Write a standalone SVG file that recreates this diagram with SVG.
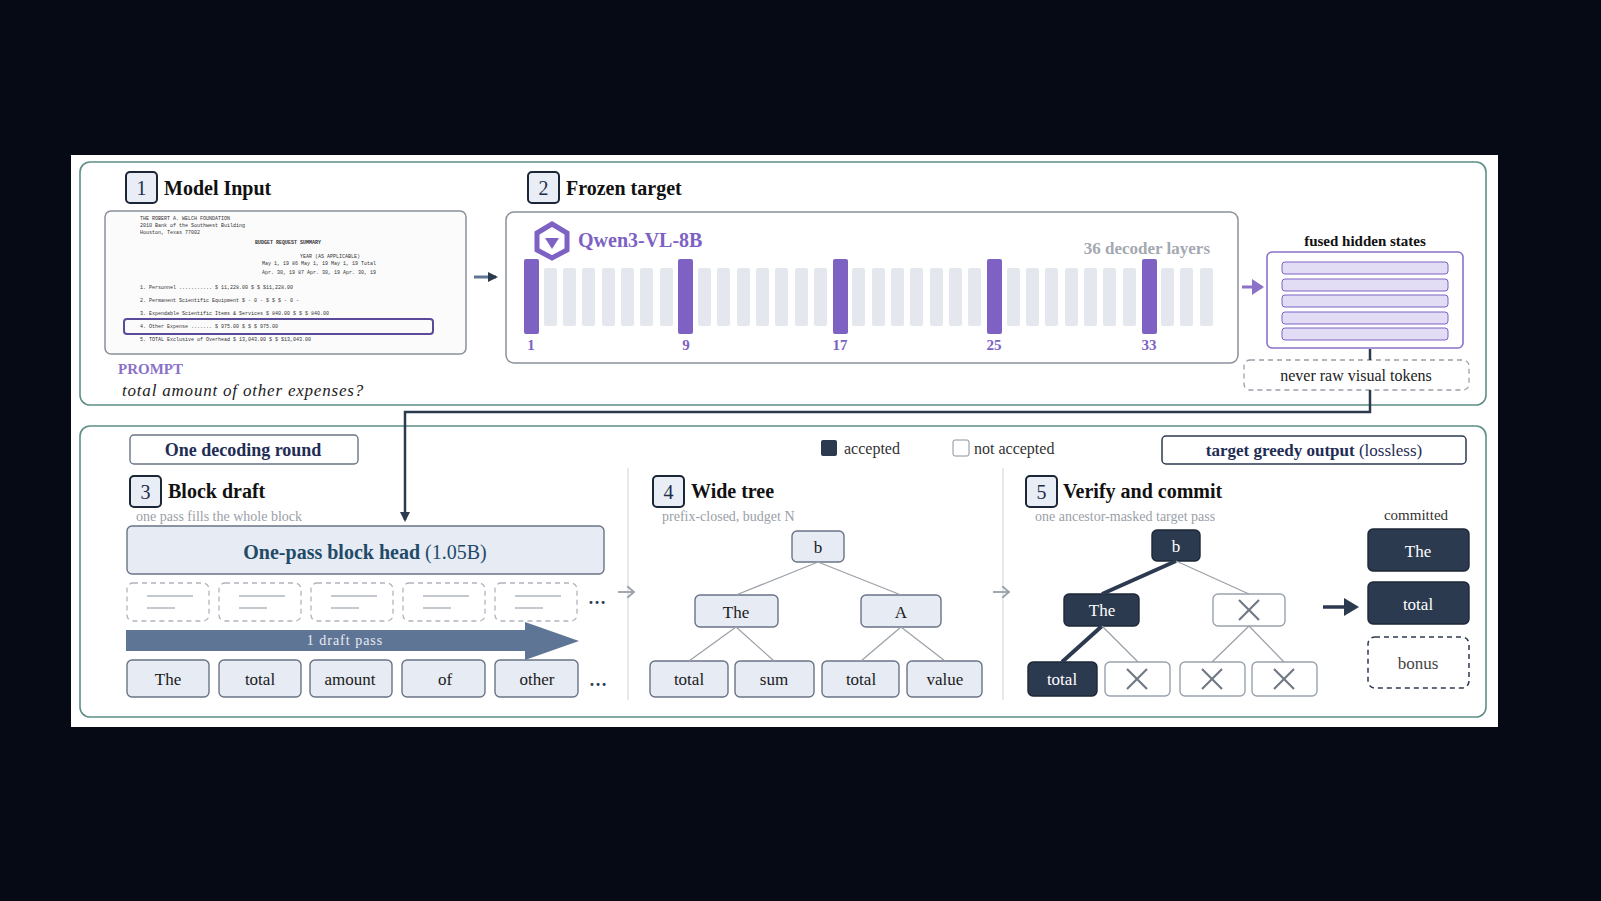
<svg xmlns="http://www.w3.org/2000/svg" width="1601" height="901" viewBox="0 0 1601 901">
<defs>
<style>
text{font-family:"Liberation Serif","DejaVu Serif",serif;}
.sec{fill:none;stroke:#5d8f86;stroke-width:1.6}
.num{fill:#e8edf6;stroke:#1b2637;stroke-width:2}
.numt{font-size:20px;fill:#1f2d4a;text-anchor:middle}
.title{font-size:20px;font-weight:bold;fill:#111}
.sub{font-size:14px;fill:#9aa0a8}
.tok{fill:#e6ebf4;stroke:#6a7486;stroke-width:1.4}
.tokt{font-size:17px;fill:#1a1a1a;text-anchor:middle}
.acc{fill:#2c3a50;stroke:#1d2736;stroke-width:1.4}
.acct{font-size:17px;fill:#fff;text-anchor:middle}
.rej{fill:#fff;stroke:#9aa2ae;stroke-width:1.4}
.x{stroke:#6f7884;stroke-width:2.2}
.dash{fill:#fff;stroke:#9aa0a8;stroke-width:1.3;stroke-dasharray:5 4}
.edge{stroke:#9aa0a8;stroke-width:1.2}
.grey{fill:#e4e7ee}
.purp{fill:#7d62c4}
.lnum{font-size:15px;font-weight:bold;fill:#7d62c4;text-anchor:middle}
.doc{font-family:"Liberation Mono",monospace;font-size:5px;fill:#333}
</style>
<marker id="ah" markerWidth="10" markerHeight="10" refX="8" refY="5" orient="auto" markerUnits="userSpaceOnUse"><path d="M0,0 L10,5 L0,10 z" fill="#2c3a50"/></marker>
<marker id="ahg" markerWidth="12" markerHeight="12" refX="6" refY="6" orient="auto" markerUnits="userSpaceOnUse"><path d="M0,0 L7,6 L0,12" fill="none" stroke="#9aa0a8" stroke-width="1.8"/></marker>
</defs>
<rect width="1601" height="901" fill="#060a14"/>
<rect x="71" y="155" width="1427" height="572" fill="#fff"/>
<rect class="sec" x="80" y="162" width="1406" height="243" rx="10"/>
<rect class="sec" x="80" y="426" width="1406" height="291" rx="10" stroke="#6a7f9a"/>

<g id="n1">
<rect class="num" x="126" y="172" width="31" height="31" rx="4"/><text class="numt" x="141.5" y="195">1</text>
<text class="title" x="164" y="195">Model Input</text>
<rect x="105" y="211" width="361" height="143" rx="6" fill="#fbfbfc" stroke="#8a909a" stroke-width="1.5"/>
<text class="doc" x="140" y="220">THE ROBERT A. WELCH FOUNDATION</text>
<text class="doc" x="140" y="227">2010 Bank of the Southwest Building</text>
<text class="doc" x="140" y="234">Houston, Texas 77002</text>
<text class="doc" x="255" y="244" font-weight="bold">BUDGET REQUEST SUMMARY</text>
<text class="doc" x="300" y="258">YEAR (AS APPLICABLE)</text>
<text class="doc" x="262" y="265">May 1, 19 86  May 1, 19    May 1, 19       Total</text>
<text class="doc" x="262" y="274">Apr. 30, 19 87 Apr. 30, 19  Apr. 30, 19</text>
<text class="doc" x="140" y="289">1. Personnel ........... $ 11,228.00  $      $      $11,228.00</text>
<text class="doc" x="140" y="302">2. Permanent Scientific Equipment $ - 0 -  $   $      $ - 0 -</text>
<text class="doc" x="140" y="315">3. Expendable Scientific Items &amp; Services $ 840.00 $ $  $ 840.00</text>
<text class="doc" x="140" y="328">4. Other Expense ....... $  975.00  $      $      $  975.00</text>
<text class="doc" x="140" y="341">5. TOTAL Exclusive of Overhead $ 13,043.00 $  $    $13,043.00</text>
<rect x="124" y="319" width="309" height="15" rx="3" fill="none" stroke="#5b4a9a" stroke-width="2"/>
<text x="118" y="374" font-size="15" font-weight="bold" fill="#8a72c8">PROMPT</text>
<text x="122" y="396" font-size="17" font-style="italic" fill="#222" letter-spacing="0.8">total amount of other expenses?</text>
</g>

<g id="n2">
<rect class="num" x="528" y="172" width="31" height="31" rx="4"/><text class="numt" x="543.5" y="195">2</text>
<text class="title" x="566" y="195">Frozen target</text>
<rect x="506" y="212" width="732" height="151" rx="8" fill="#fff" stroke="#8a909a" stroke-width="1.5"/>
<g transform="translate(552,241)" fill="#7d62c4">
<polygon points="0,-17 15,-8 15,9 0,17 -15,9 -15,-8" fill="none" stroke="#7d62c4" stroke-width="5"/>
<polygon points="-7,-3 7,-3 0,8"/>
</g>
<text x="578" y="247" font-size="20" font-weight="bold" fill="#7d62c4">Qwen3-VL-8B</text>
<text x="1210" y="254" font-size="17" font-weight="bold" fill="#a4a8b0" text-anchor="end">36 decoder layers</text>
<g id="layers">
<rect class="purp" x="524" y="259" width="15" height="75" rx="2"/>
<rect class="grey" x="544" y="268" width="13" height="58" rx="2"/>
<rect class="grey" x="563" y="268" width="13" height="58" rx="2"/>
<rect class="grey" x="582" y="268" width="13" height="58" rx="2"/>
<rect class="grey" x="602" y="268" width="13" height="58" rx="2"/>
<rect class="grey" x="621" y="268" width="13" height="58" rx="2"/>
<rect class="grey" x="640" y="268" width="13" height="58" rx="2"/>
<rect class="grey" x="660" y="268" width="13" height="58" rx="2"/>
<rect class="purp" x="678" y="259" width="15" height="75" rx="2"/>
<rect class="grey" x="698" y="268" width="13" height="58" rx="2"/>
<rect class="grey" x="717" y="268" width="13" height="58" rx="2"/>
<rect class="grey" x="737" y="268" width="13" height="58" rx="2"/>
<rect class="grey" x="756" y="268" width="13" height="58" rx="2"/>
<rect class="grey" x="775" y="268" width="13" height="58" rx="2"/>
<rect class="grey" x="795" y="268" width="13" height="58" rx="2"/>
<rect class="grey" x="814" y="268" width="13" height="58" rx="2"/>
<rect class="purp" x="833" y="259" width="15" height="75" rx="2"/>
<rect class="grey" x="852" y="268" width="13" height="58" rx="2"/>
<rect class="grey" x="872" y="268" width="13" height="58" rx="2"/>
<rect class="grey" x="891" y="268" width="13" height="58" rx="2"/>
<rect class="grey" x="910" y="268" width="13" height="58" rx="2"/>
<rect class="grey" x="930" y="268" width="13" height="58" rx="2"/>
<rect class="grey" x="949" y="268" width="13" height="58" rx="2"/>
<rect class="grey" x="968" y="268" width="13" height="58" rx="2"/>
<rect class="purp" x="987" y="259" width="15" height="75" rx="2"/>
<rect class="grey" x="1007" y="268" width="13" height="58" rx="2"/>
<rect class="grey" x="1026" y="268" width="13" height="58" rx="2"/>
<rect class="grey" x="1045" y="268" width="13" height="58" rx="2"/>
<rect class="grey" x="1065" y="268" width="13" height="58" rx="2"/>
<rect class="grey" x="1084" y="268" width="13" height="58" rx="2"/>
<rect class="grey" x="1103" y="268" width="13" height="58" rx="2"/>
<rect class="grey" x="1123" y="268" width="13" height="58" rx="2"/>
<rect class="purp" x="1142" y="259" width="15" height="75" rx="2"/>
<rect class="grey" x="1161" y="268" width="13" height="58" rx="2"/>
<rect class="grey" x="1180" y="268" width="13" height="58" rx="2"/>
<rect class="grey" x="1200" y="268" width="13" height="58" rx="2"/>
</g>
<text class="lnum" x="531" y="350">1</text><text class="lnum" x="686" y="350">9</text><text class="lnum" x="840" y="350">17</text><text class="lnum" x="994" y="350">25</text><text class="lnum" x="1149" y="350">33</text>
</g>

<g id="fused">
<text x="1365" y="246" font-size="15" font-weight="bold" fill="#111" text-anchor="middle">fused hidden states</text>
<rect x="1267" y="252" width="196" height="96" rx="5" fill="#fff" stroke="#8a72c8" stroke-width="1.6"/>
<rect x="1282" y="262" width="166" height="12" rx="3" fill="#e3dcf5" stroke="#7d62c4"/>
<rect x="1282" y="279" width="166" height="12" rx="3" fill="#e3dcf5" stroke="#7d62c4"/>
<rect x="1282" y="295" width="166" height="12" rx="3" fill="#e3dcf5" stroke="#7d62c4"/>
<rect x="1282" y="312" width="166" height="12" rx="3" fill="#e3dcf5" stroke="#7d62c4"/>
<rect x="1282" y="328" width="166" height="12" rx="3" fill="#e3dcf5" stroke="#7d62c4"/>
</g>
<g id="never">
<rect class="dash" x="1244" y="360" width="225" height="30" rx="6"/>
<text x="1356" y="381" font-size="16" fill="#222" text-anchor="middle">never raw visual tokens</text>
</g>

<g id="legend">
<rect x="1162" y="436" width="304" height="28" rx="4" fill="#fff" stroke="#2c3a50" stroke-width="1.5"/>
<text x="1314" y="456" font-size="17" text-anchor="middle" fill="#1f2d55"><tspan font-weight="bold">target greedy output</tspan> (lossless)</text>
<rect x="130" y="435" width="228" height="29" rx="4" fill="#fff" stroke="#6a7486" stroke-width="1.4"/>
<text x="243" y="456" font-size="18" font-weight="bold" text-anchor="middle" fill="#1f2d55">One decoding round</text>
<rect x="821" y="440" width="16" height="16" rx="2" fill="#2c3a50"/>
<text x="844" y="454" font-size="16" fill="#333">accepted</text>
<rect x="953" y="440" width="16" height="16" rx="2" fill="#fff" stroke="#8a909a"/>
<text x="974" y="454" font-size="16" fill="#333">not accepted</text>
<line x1="628" y1="468" x2="628" y2="700" stroke="#dde0e6" stroke-width="1.5"/>
<line x1="1003" y1="468" x2="1003" y2="700" stroke="#dde0e6" stroke-width="1.5"/>
</g>

<g id="n3">
<rect class="num" x="130" y="476" width="31" height="31" rx="4"/><text class="numt" x="145.5" y="499">3</text>
<text class="title" x="168" y="498">Block draft</text>
<text class="sub" x="136" y="521">one pass fills the whole block</text>
<rect x="127" y="526" width="477" height="48" rx="5" fill="#e6ebf4" stroke="#6a7486" stroke-width="1.4"/>
<text x="365" y="559" font-size="20" text-anchor="middle" fill="#1f4a68"><tspan font-weight="bold">One-pass block head</tspan> (1.05B)</text>
<g fill="#fff" stroke="#b0b5bd" stroke-width="1.3" stroke-dasharray="5 4">
<rect x="127" y="583" width="82" height="38" rx="6"/><rect x="219" y="583" width="82" height="38" rx="6"/><rect x="311" y="583" width="82" height="38" rx="6"/><rect x="403" y="583" width="82" height="38" rx="6"/><rect x="495" y="583" width="82" height="38" rx="6"/>
</g>
<g stroke="#c4c8cf" stroke-width="2">
<line x1="147" y1="596" x2="193" y2="596"/><line x1="147" y1="608" x2="175" y2="608"/>
<line x1="239" y1="596" x2="285" y2="596"/><line x1="239" y1="608" x2="267" y2="608"/>
<line x1="331" y1="596" x2="377" y2="596"/><line x1="331" y1="608" x2="359" y2="608"/>
<line x1="423" y1="596" x2="469" y2="596"/><line x1="423" y1="608" x2="451" y2="608"/>
<line x1="515" y1="596" x2="561" y2="596"/><line x1="515" y1="608" x2="543" y2="608"/>
</g>
<text x="597" y="604" font-size="18" font-weight="bold" fill="#2c3a50" text-anchor="middle">…</text>
<polygon points="126,630 525,630 525,622 579,641 525,660 525,651 126,651" fill="#5f7596"/>
<text x="345" y="645" font-size="14" fill="#e8ecf3" text-anchor="middle" letter-spacing="1">1 draft pass</text>
<rect class="tok" x="127" y="660" width="82" height="37" rx="5"/><text class="tokt" x="168" y="685">The</text>
<rect class="tok" x="219" y="660" width="82" height="37" rx="5"/><text class="tokt" x="260" y="685">total</text>
<rect class="tok" x="310" y="660" width="82" height="37" rx="5"/><text class="tokt" x="350" y="685">amount</text>
<rect class="tok" x="402" y="660" width="83" height="37" rx="5"/><text class="tokt" x="445" y="685">of</text>
<rect class="tok" x="495" y="660" width="83" height="37" rx="5"/><text class="tokt" x="537" y="685">other</text>
<text x="598" y="686" font-size="18" font-weight="bold" fill="#2c3a50" text-anchor="middle">…</text>
</g>

<g id="n4">
<rect class="num" x="653" y="476" width="31" height="31" rx="4"/><text class="numt" x="668.5" y="499">4</text>
<text class="title" x="691" y="498">Wide tree</text>
<text class="sub" x="662" y="521">prefix-closed, budget N</text>
<rect class="tok" x="792" y="531" width="52" height="31" rx="5"/><text class="tokt" x="818" y="553">b</text>
<rect class="tok" x="695" y="595" width="83" height="32" rx="5"/><text class="tokt" x="736" y="618">The</text>
<rect class="tok" x="861" y="595" width="80" height="32" rx="5"/><text class="tokt" x="901" y="618">A</text>
<rect class="tok" x="650" y="661" width="78" height="36" rx="5"/><text class="tokt" x="689" y="685">total</text>
<rect class="tok" x="735" y="661" width="79" height="36" rx="5"/><text class="tokt" x="774" y="685">sum</text>
<rect class="tok" x="822" y="661" width="77" height="36" rx="5"/><text class="tokt" x="861" y="685">total</text>
<rect class="tok" x="907" y="661" width="75" height="36" rx="5"/><text class="tokt" x="945" y="685">value</text>
</g>

<g id="n5">
<rect class="num" x="1026" y="476" width="31" height="31" rx="4"/><text class="numt" x="1041.5" y="499">5</text>
<text class="title" x="1063" y="498">Verify and commit</text>
<text class="sub" x="1035" y="521">one ancestor-masked target pass</text>
<rect class="acc" x="1152" y="530" width="48" height="31" rx="5"/><text class="acct" x="1176" y="552">b</text>
<rect class="acc" x="1064" y="594" width="75" height="32" rx="5"/><text class="acct" x="1102" y="616">The</text>
<rect class="rej" x="1213" y="594" width="72" height="32" rx="5"/>
<rect class="acc" x="1028" y="662" width="69" height="34" rx="5"/><text class="acct" x="1062" y="685">total</text>
<rect class="rej" x="1105" y="662" width="65" height="34" rx="5"/>
<rect class="rej" x="1180" y="662" width="65" height="34" rx="5"/>
<rect class="rej" x="1252" y="662" width="65" height="34" rx="5"/>
<g class="x">
<line x1="1239" y1="600" x2="1259" y2="620"/><line x1="1259" y1="600" x2="1239" y2="620"/>
<line x1="1127" y1="669" x2="1147" y2="689"/><line x1="1147" y1="669" x2="1127" y2="689"/>
<line x1="1202" y1="669" x2="1222" y2="689"/><line x1="1222" y1="669" x2="1202" y2="689"/>
<line x1="1274" y1="669" x2="1294" y2="689"/><line x1="1294" y1="669" x2="1274" y2="689"/>
</g>
<text x="1416" y="520" font-size="15" fill="#333" text-anchor="middle">committed</text>
<rect class="acc" x="1368" y="529" width="101" height="42" rx="5"/><text class="acct" x="1418" y="557">The</text>
<rect class="acc" x="1368" y="582" width="101" height="42" rx="5"/><text class="acct" x="1418" y="610">total</text>
<rect x="1368" y="637" width="101" height="51" rx="7" fill="#fff" stroke="#2c3a50" stroke-width="1.5" stroke-dasharray="5 4"/>
<text x="1418" y="669" font-size="17" fill="#444" text-anchor="middle">bonus</text>
</g>

<g id="connectors">
<line x1="474" y1="277" x2="496" y2="277" stroke="#5f7596" stroke-width="3" marker-end="url(#ah)"/>
<line x1="1242" y1="287" x2="1262" y2="287" stroke="#8a72c8" stroke-width="3"/>
<polygon points="1252,279 1264,287 1252,295" fill="#8a72c8"/>
<line x1="1370" y1="349" x2="1370" y2="360" stroke="#2c3a50" stroke-width="2.5"/>
<polyline points="1370,390 1370,412 405,412 405,520" fill="none" stroke="#2c3a50" stroke-width="2.5" marker-end="url(#ah)"/>
<line x1="618" y1="592" x2="633" y2="592" stroke="#9aa0a8" stroke-width="1.8" marker-end="url(#ahg)"/>
<line x1="993" y1="592" x2="1008" y2="592" stroke="#9aa0a8" stroke-width="1.8" marker-end="url(#ahg)"/>
<line class="edge" x1="818" y1="562" x2="736" y2="595"/><line class="edge" x1="818" y1="562" x2="901" y2="595"/>
<line class="edge" x1="736" y1="627" x2="689" y2="661"/><line class="edge" x1="736" y1="627" x2="774" y2="661"/>
<line class="edge" x1="901" y1="627" x2="861" y2="661"/><line class="edge" x1="901" y1="627" x2="945" y2="661"/>
<line x1="1176" y1="561" x2="1102" y2="594" stroke="#2c3a50" stroke-width="4"/>
<line class="edge" x1="1176" y1="561" x2="1249" y2="594"/>
<line x1="1102" y1="626" x2="1062" y2="662" stroke="#2c3a50" stroke-width="4"/>
<line class="edge" x1="1102" y1="626" x2="1138" y2="662"/>
<line class="edge" x1="1249" y1="626" x2="1212" y2="662"/><line class="edge" x1="1249" y1="626" x2="1284" y2="662"/>
<line x1="1323" y1="607" x2="1350" y2="607" stroke="#2c3a50" stroke-width="3.5"/>
<polygon points="1344,598 1359,607 1344,616" fill="#2c3a50"/>
</g>
</svg>
